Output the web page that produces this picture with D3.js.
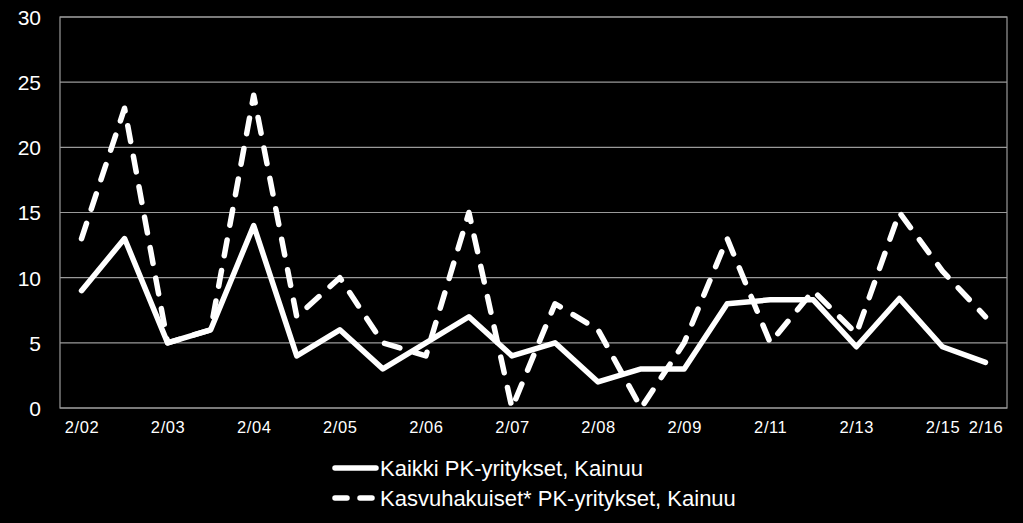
<!DOCTYPE html>
<html>
<head>
<meta charset="utf-8">
<script src="https://cdn.jsdelivr.net/npm/d3@7"></script>
<style>
  html, body { margin: 0; padding: 0; background: #000; }
  svg { display: block; }
</style>
</head>
<body>
<svg id="chart" width="1023" height="523"></svg>
<script>
const categories = ["2/02","8/02","2/03","8/03","2/04","8/04","2/05","8/05","2/06","8/06","2/07","8/07","2/08","8/08","2/09","2/10","2/11","2/12","2/13","2/14","2/15","2/16"];
const shownLabels = ["2/02","2/03","2/04","2/05","2/06","2/07","2/08","2/09","2/11","2/13","2/15","2/16"];
const kaikki = [9,13,5,6,14,4,6,3,5,7,4,5,2,3,3,8,8.3,8.3,4.7,8.4,4.7,3.5];
const kasvuhakuiset = [13,23,5,6,24,7,10,5,4,15,0,8,6,0,5,13,5,9,5.7,15,10.5,7];
const yTicks = [0,5,10,15,20,25,30];
const seriesNames = ["Kaikki PK-yritykset, Kainuu","Kasvuhakuiset* PK-yritykset, Kainuu"];

(function () {
const svg = d3.select("#chart");
const W = 1023, H = 523;
svg.append("rect").attr("width", W).attr("height", H).attr("fill", "#000");

const pl = 60, pr = 1007, pt = 17, pb = 408;
const x = d3.scalePoint().domain(categories).range([pl, pr]).padding(0.5);
const y = d3.scaleLinear().domain([0, 30]).range([pb, pt]);

const font = "'Liberation Sans', Arial, sans-serif";

// gridlines
const grid = svg.append("g");
grid.selectAll("line").data(yTicks).enter().append("line")
  .attr("x1", pl).attr("x2", pr)
  .attr("y1", d => y(d)).attr("y2", d => y(d))
  .attr("stroke", "#9a9a9a").attr("stroke-width", 1.2);
// plot border
svg.append("rect").attr("x", pl).attr("y", pt)
  .attr("width", pr - pl).attr("height", pb - pt)
  .attr("fill", "none").attr("stroke", "#9a9a9a").attr("stroke-width", 1.2);

// y axis
const yAxis = d3.axisLeft(y).tickValues(yTicks).tickSize(0).tickPadding(0);
const gy = svg.append("g").attr("transform", `translate(${pl - 19},0)`).call(yAxis);
gy.select(".domain").remove();
gy.selectAll("text").attr("fill", "#fff").attr("font-family", font).attr("font-size", 21).attr("dy", "0.35em");

// x axis
const xAxis = d3.axisBottom(x).tickValues(shownLabels).tickSize(0).tickPadding(0);
const gx = svg.append("g").attr("transform", `translate(0,${pb + 13})`).call(xAxis);
gx.select(".domain").remove();
gx.selectAll("text").attr("fill", "#fff").attr("font-family", font).attr("font-size", 16.5).attr("dy", "0.71em").attr("letter-spacing", "0.6px");

// lines
const line = d3.line().x((d, i) => x(categories[i])).y(d => y(d));
svg.append("path").datum(kaikki).attr("d", line)
  .attr("fill", "none").attr("stroke", "#fff").attr("stroke-width", 5.5)
  .attr("stroke-linejoin", "round").attr("stroke-linecap", "round");
svg.append("path").datum(kasvuhakuiset).attr("d", line)
  .attr("fill", "none").attr("stroke", "#fff").attr("stroke-width", 5.5)
  .attr("stroke-dasharray", "16,15")
  .attr("stroke-linejoin", "round").attr("stroke-linecap", "round");

// legend
const legend = svg.append("g");
const ly = [468, 498];
legend.append("line").attr("x1", 335).attr("x2", 376).attr("y1", ly[0]).attr("y2", ly[0])
  .attr("stroke", "#fff").attr("stroke-width", 5.5).attr("stroke-linecap", "round");
legend.append("line").attr("x1", 335).attr("x2", 376).attr("y1", ly[1]).attr("y2", ly[1])
  .attr("stroke", "#fff").attr("stroke-width", 5.5).attr("stroke-linecap", "round")
  .attr("stroke-dasharray", "12,13");
legend.selectAll("text").data(seriesNames).enter().append("text")
  .attr("x", 380).attr("y", (d, i) => ly[i])
  .attr("dy", "0.36em")
  .attr("fill", "#fff").attr("font-family", font).attr("font-size", 22)
  .text(d => d);
})();
</script>
</body>
</html>
